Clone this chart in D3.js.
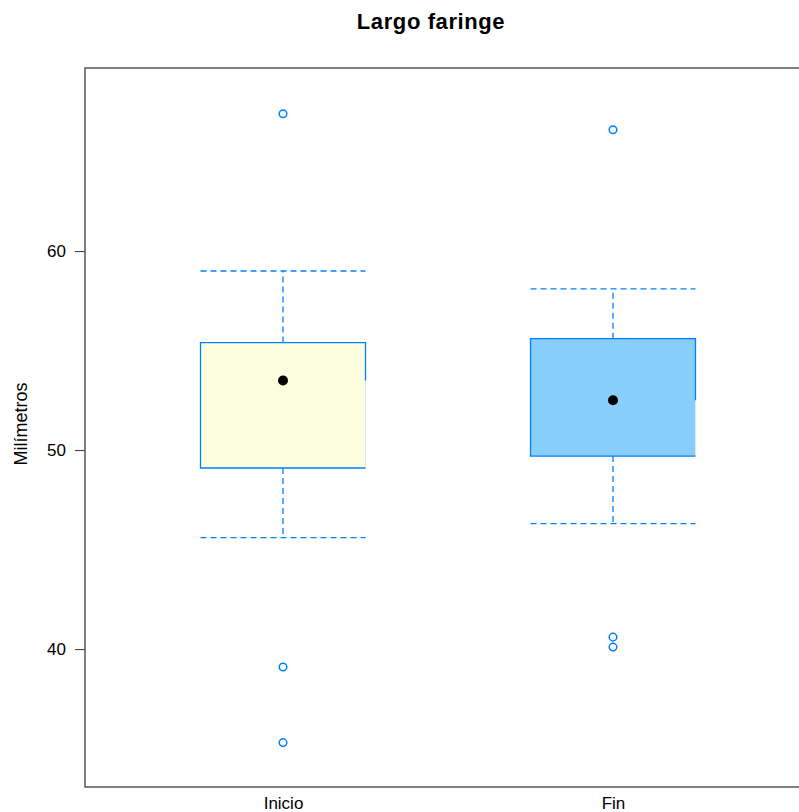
<!DOCTYPE html>
<html>
<head>
<meta charset="utf-8">
<script src="https://cdn.jsdelivr.net/npm/d3@7"></script>
<style>
  html, body { margin: 0; padding: 0; background: #fff; }
  svg { display: block; font-family: "Liberation Sans", Arial, Helvetica, sans-serif; }
</style>
</head>
<body>
<svg id="chart" width="799" height="812"></svg>
<script>
// Box-and-whisker summary per group
const categories = ["Inicio", "Fin"];
const whiskerLow  = [45.6, 46.3];
const boxLow      = [49.1, 49.7];
const medians     = [53.5, 52.5];
const boxHigh     = [55.4, 55.6];
const whiskerHigh = [59.0, 58.1];
const outliers    = [[66.9, 39.1, 35.3], [66.1, 40.6, 40.1]];
const fills       = ["#FDFDE0", "#87CEFA"];
const yTicks      = [40, 50, 60];

const svg = d3.select("#chart");
const margin = { left: 85, top: 68, bottom: 787 };

const x = d3.scaleLinear().domain([0.4, 2.6]).range([margin.left, margin.left + 2.2 * 330]);
const y = d3.scaleLinear().domain([33.07, 69.2]).range([margin.bottom, margin.top]);
const stroke = "#0080ff";
const halfW = 0.25;

// Title
svg.append("text")
  .attr("x", 431).attr("y", 29)
  .attr("text-anchor", "middle")
  .attr("font-size", 22).attr("font-weight", "bold")
  .attr("letter-spacing", 0.6)
  .text("Largo faringe");

// Y axis label
svg.append("text")
  .attr("transform", "translate(27,424) rotate(-90)")
  .attr("text-anchor", "middle")
  .attr("font-size", 18)
  .text("Milímetros");

// Y axis
const yAxis = d3.axisLeft(y).tickValues(yTicks).tickSize(10).tickPadding(9);
const ga = svg.append("g").attr("transform", `translate(${margin.left},0)`).call(yAxis);
ga.select(".domain").remove();
ga.selectAll(".tick line").attr("stroke", "#333");
ga.selectAll(".tick text").attr("font-size", 17).attr("fill", "#000")
  .attr("font-family", "'Liberation Sans', Arial, sans-serif");

// X axis labels
const xAxis = d3.axisBottom(x).tickValues([1, 2]).tickFormat((d) => categories[d - 1]).tickSize(0).tickPadding(10);
const gx = svg.append("g").attr("transform", `translate(0,${margin.bottom})`).call(xAxis);
gx.select(".domain").remove();
gx.selectAll(".tick text").attr("font-size", 17).attr("fill", "#000")
  .attr("font-family", "'Liberation Sans', Arial, sans-serif");

// Boxes
categories.forEach((c, i) => {
  const cx = x(i + 1);
  const x0 = x(i + 1 - halfW), x1 = x(i + 1 + halfW);
  const g = svg.append("g");

  // whiskers (dashed)
  const dash = "6,4";
  g.append("line").attr("x1", cx).attr("x2", cx).attr("y1", y(boxHigh[i])).attr("y2", y(whiskerHigh[i]))
    .attr("stroke", stroke).attr("stroke-width", 1.3).attr("stroke-dasharray", dash);
  g.append("line").attr("x1", cx).attr("x2", cx).attr("y1", y(boxLow[i])).attr("y2", y(whiskerLow[i]))
    .attr("stroke", stroke).attr("stroke-width", 1.3).attr("stroke-dasharray", dash);
  [whiskerHigh[i], whiskerLow[i]].forEach((v) => {
    g.append("line").attr("x1", x0).attr("x2", x1).attr("y1", y(v)).attr("y2", y(v))
      .attr("stroke", stroke).attr("stroke-width", 1.3).attr("stroke-dasharray", dash);
  });

  // box fill
  g.append("rect").attr("x", x0).attr("y", y(boxHigh[i]))
    .attr("width", x1 - x0).attr("height", y(boxLow[i]) - y(boxHigh[i]))
    .attr("fill", fills[i]);
  // faint lower right edge
  g.append("line").attr("x1", x1).attr("x2", x1).attr("y1", y(medians[i])).attr("y2", y(boxLow[i]))
    .attr("stroke", "#dbe9f7").attr("stroke-width", 1);
  // box outline, opening at the median on the right side
  const p = d3.path();
  p.moveTo(x1, y(medians[i]));
  p.lineTo(x1, y(boxHigh[i]));
  p.lineTo(x0, y(boxHigh[i]));
  p.lineTo(x0, y(boxLow[i]));
  p.lineTo(x1, y(boxLow[i]));
  g.append("path").attr("d", p.toString()).attr("fill", "none")
    .attr("stroke", stroke).attr("stroke-width", 1.3);

  // median dot
  g.append("circle").attr("cx", cx).attr("cy", y(medians[i])).attr("r", 5).attr("fill", "#000");

  // outliers
  g.selectAll("circle.out").data(outliers[i]).enter().append("circle")
    .attr("class", "out")
    .attr("cx", cx).attr("cy", (d) => y(d)).attr("r", 3.8)
    .attr("fill", "none").attr("stroke", stroke).attr("stroke-width", 1.5);
});

// Panel frame
svg.append("rect")
  .attr("x", margin.left).attr("y", margin.top)
  .attr("width", x(2.6) - margin.left).attr("height", margin.bottom - margin.top)
  .attr("fill", "none").attr("stroke", "#555").attr("stroke-width", 1.5);
</script>
</body>
</html>
